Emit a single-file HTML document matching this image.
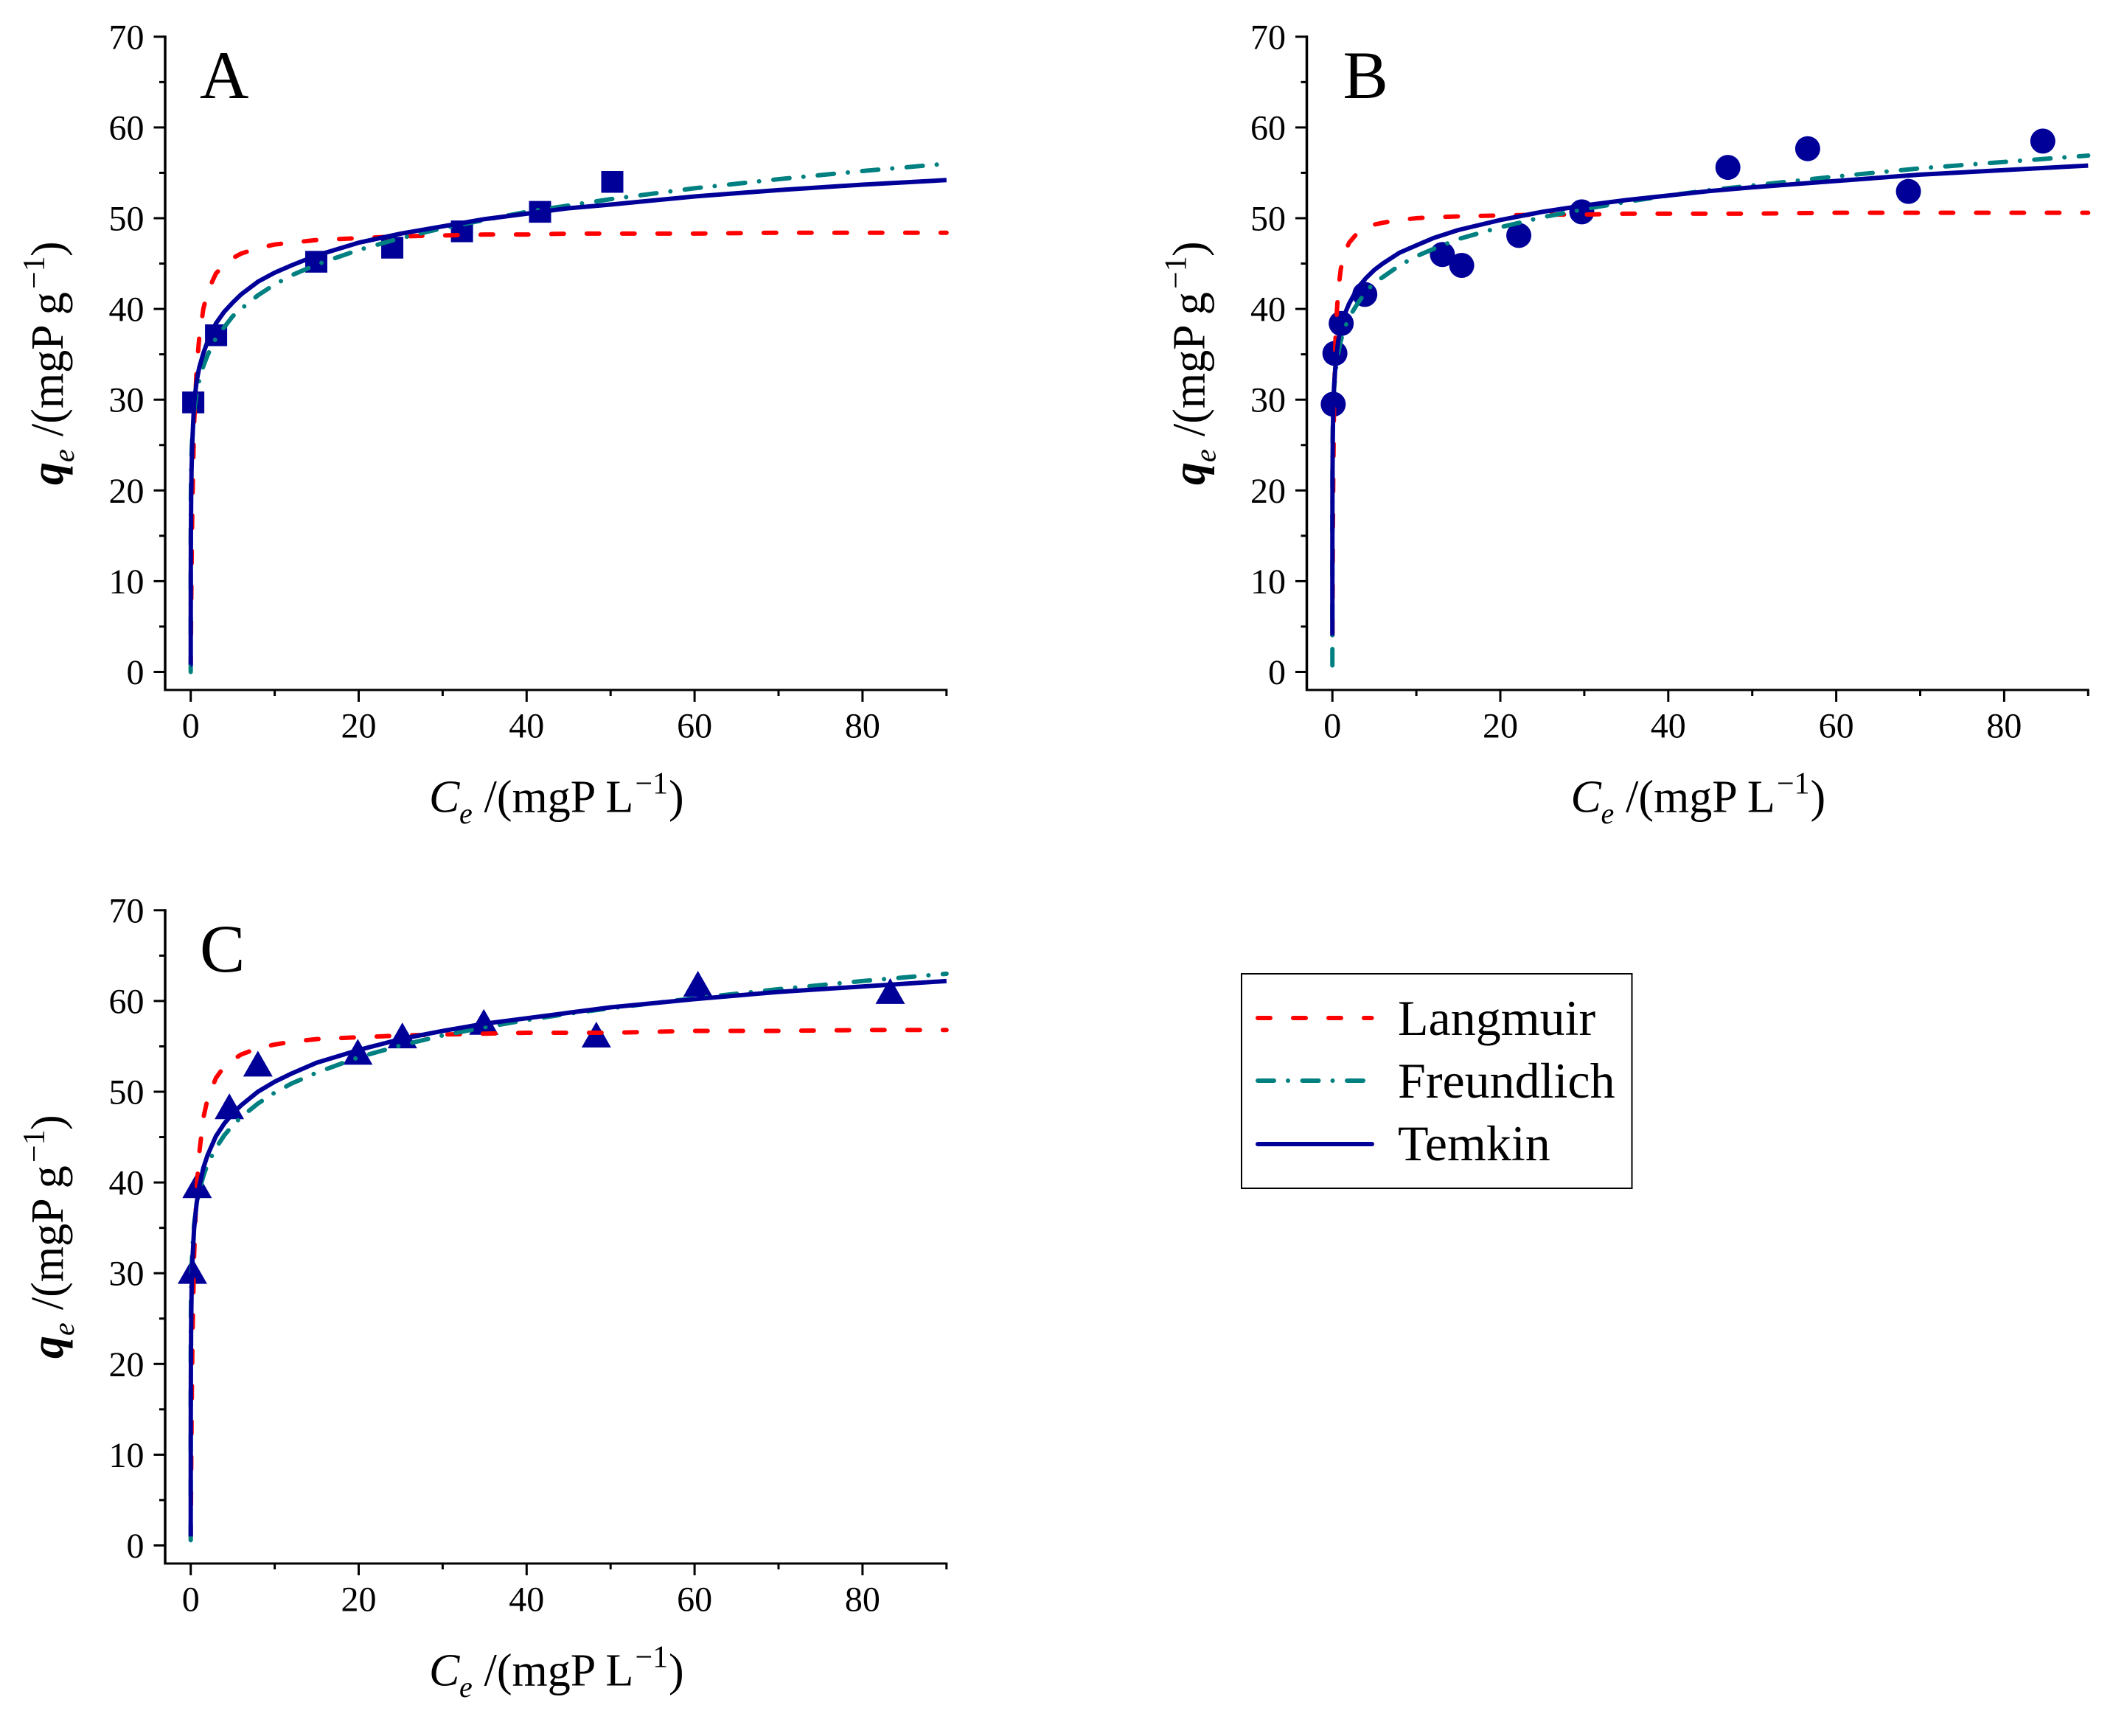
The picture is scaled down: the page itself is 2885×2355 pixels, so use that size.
<!DOCTYPE html>
<html lang="en">
<head>
<meta charset="utf-8">
<title>Adsorption isotherms</title>
<style>
html,body{margin:0;padding:0;background:#fff;}
svg{display:block;}
text{font-family:"Liberation Serif",serif;fill:#000;}
.ttl{font-size:62px;}
.it{font-style:italic;}
.sub{font-size:40px;font-style:italic;}
.sup{font-size:42px;}
.letter{font-size:92px;}
.leg{font-size:68px;}
.tick{font-size:48px;}
</style>
</head>
<body>
<svg id="chart" xmlns="http://www.w3.org/2000/svg" width="2885" height="2355" viewBox="0 0 2885 2355">
  <rect x="0" y="0" width="2885" height="2355" fill="#fff"/>

  <g id="panelA" transform="translate(0,0)">
    <text class="letter" x="271" y="133">A</text>
    <g>
      <text class="ttl it" x="582" y="1101.5">C</text><text class="sub" x="623" y="1117">e</text><text class="ttl" x="656.6" y="1101.5">/(mgP L</text><text class="sup" x="861.5" y="1076.5">−1</text><text class="ttl" x="907" y="1101.5">)</text>
    </g>
    <g transform="translate(85,658) rotate(-90)">
      <text class="ttl it" font-weight="bold" x="0" y="0">q</text><text class="sub" x="31" y="15">e</text><text class="ttl" x="66" y="0">/(mgP g</text><text class="sup" x="266" y="-25">−1</text><text class="ttl" x="310" y="0">)</text>
    </g>
  </g>

  <g id="panelB" transform="translate(1548.5,0)">
    <text class="letter" x="273" y="133">B</text>
    <g>
      <text class="ttl it" x="582" y="1101.5">C</text><text class="sub" x="623" y="1117">e</text><text class="ttl" x="656.6" y="1101.5">/(mgP L</text><text class="sup" x="861.5" y="1076.5">−1</text><text class="ttl" x="907" y="1101.5">)</text>
    </g>
    <g transform="translate(85,658) rotate(-90)">
      <text class="ttl it" font-weight="bold" x="0" y="0">q</text><text class="sub" x="31" y="15">e</text><text class="ttl" x="66" y="0">/(mgP g</text><text class="sup" x="266" y="-25">−1</text><text class="ttl" x="310" y="0">)</text>
    </g>
  </g>

  <g id="panelC" transform="translate(0,1185)">
    <text class="letter" x="271" y="133">C</text>
    <g>
      <text class="ttl it" x="582" y="1101.5">C</text><text class="sub" x="623" y="1117">e</text><text class="ttl" x="656.6" y="1101.5">/(mgP L</text><text class="sup" x="861.5" y="1076.5">−1</text><text class="ttl" x="907" y="1101.5">)</text>
    </g>
    <g transform="translate(85,658) rotate(-90)">
      <text class="ttl it" font-weight="bold" x="0" y="0">q</text><text class="sub" x="31" y="15">e</text><text class="ttl" x="66" y="0">/(mgP g</text><text class="sup" x="266" y="-25">−1</text><text class="ttl" x="310" y="0">)</text>
    </g>
  </g>

  <g>
    <rect x="1684" y="1321" width="529.5" height="291" fill="none" stroke="#000" stroke-width="2"/>
    <g>
      <line x1="1706" y1="1381" x2="1860.5" y2="1381" stroke="#ff0000" stroke-width="6" stroke-linecap="round" stroke-dasharray="17 31"/>
      <text class="leg" x="1896" y="1404">Langmuir</text>
    </g>
    <g>
      <line x1="1706" y1="1466" x2="1849" y2="1466" stroke="#008080" stroke-width="6" stroke-linecap="round" stroke-dasharray="22 19 0.01 19.5"/>
      <text class="leg" x="1896" y="1489">Freundlich</text>
    </g>
    <g>
      <line x1="1706" y1="1552" x2="1861" y2="1552" stroke="#000099" stroke-width="6" stroke-linecap="round"/>
      <text class="leg" x="1896" y="1574">Temkin</text>
    </g>
  </g>
</svg>

<script>
// Tick values
var xMajorTicks = [0, 20, 40, 60, 80];
var xMinorTicks = [10, 30, 50, 70, 90];
var yMajorTicks = [0, 10, 20, 30, 40, 50, 60, 70];
var yMinorTicks = [5, 15, 25, 35, 45, 55, 65];

// Shared Ce values for the fitted curves
var curveCe = [0, 0.001, 0.002, 0.005, 0.01, 0.02, 0.05, 0.1, 0.2, 0.4, 0.7, 1, 1.5, 2, 3, 4, 5, 6, 8, 10, 12, 15, 20, 25, 30, 35, 40, 45, 50, 60, 70, 80, 90];

// Panel A
var pointsACe = [0.3, 3.02, 14.95, 24, 32.3, 41.6, 50.2];
var pointsAQe = [29.7, 37.1, 45.2, 46.75, 48.55, 50.7, 54.0];
var langmuirA = [1, 1, 1, 1, 1.5, 2.9, 6.7, 11.5, 18.6, 27.3, 33.3, 36.7, 40.0, 41.9, 43.9, 44.9, 45.6, 46.1, 46.7, 47.1, 47.3, 47.6, 47.8, 48.0, 48.1, 48.2, 48.2, 48.3, 48.3, 48.3, 48.4, 48.4, 48.4];
var freundlichA = [0, 13.7, 14.9, 16.7, 18.2, 19.8, 22.2, 24.1, 26.3, 28.7, 30.7, 32.1, 33.7, 34.9, 36.8, 38.0, 39.2, 40.0, 41.5, 42.7, 43.7, 44.9, 46.5, 47.8, 48.9, 49.8, 50.7, 51.4, 52.1, 53.3, 54.3, 55.2, 56.0];
var temkinA = [0.8, 0.8, 4.1, 8.3, 11.6, 14.9, 19.1, 22.4, 25.6, 29.6, 32.0, 33.5, 35.1, 36.4, 38.4, 39.7, 40.7, 41.6, 43.0, 44.0, 44.8, 45.9, 47.3, 48.3, 49.1, 49.9, 50.5, 51.1, 51.5, 52.4, 53.1, 53.7, 54.2];
var dashStartCeA = [59.8, 64.1];

// Panel B
var pointsBCe = [0.1, 0.3, 1.05, 3.86, 13.1, 15.4, 22.2, 29.7, 47.1, 56.6, 68.6, 84.6];
var pointsBQe = [29.5, 35.1, 38.4, 41.6, 46.0, 44.8, 48.1, 50.7, 55.6, 57.66, 52.95, 58.5];
var langmuirB = [4, 4, 4, 4, 4, 6.2, 13.5, 20.9, 29.9, 37.8, 42.1, 44.4, 46.3, 47.3, 48.4, 48.9, 49.3, 49.5, 49.8, 50.0, 50.1, 50.2, 50.3, 50.4, 50.4, 50.5, 50.5, 50.5, 50.5, 50.6, 50.6, 50.6, 50.6];
var freundlichB = [0, 18.5, 19.8, 21.6, 23.2, 24.9, 27.2, 29.1, 31.2, 33.3, 35.2, 36.5, 38.0, 39.1, 40.6, 41.9, 42.9, 43.5, 44.8, 45.8, 46.6, 47.7, 49.0, 50.1, 51.0, 51.8, 52.5, 53.1, 53.6, 54.6, 55.5, 56.2, 56.9];
var temkinB = [4, 10.5, 13.2, 16.9, 19.6, 22.4, 26.0, 28.8, 31.5, 34.2, 36.5, 37.9, 39.5, 40.6, 42.3, 43.4, 44.3, 45.0, 46.2, 47.0, 47.8, 48.7, 49.8, 50.7, 51.4, 52.0, 52.5, 53.0, 53.4, 54.1, 54.8, 55.3, 55.8];
var dashStartCeB = [59.8, 67.7];

// Panel C
var pointsCCe = [0.2, 0.76, 4.6, 8.0, 19.9, 25.2, 34.9, 48.3, 60.4, 83.3];
var pointsCQe = [30.25, 39.7, 48.4, 53.1, 54.4, 56.2, 57.7, 56.3, 61.9, 61.1];
var langmuirC = [1, 1, 1, 1, 1.8, 3.4, 7.8, 13.8, 22.3, 31.9, 39.3, 43.1, 47.1, 49.2, 51.5, 52.8, 53.5, 54.1, 54.8, 55.2, 55.5, 55.8, 56.0, 56.2, 56.3, 56.4, 56.5, 56.5, 56.5, 56.7, 56.7, 56.8, 56.8];
var freundlichC = [0, 18.7, 20.1, 22.2, 23.9, 25.7, 28.3, 30.5, 32.8, 35.4, 37.5, 39.0, 40.7, 42.0, 43.8, 45.2, 46.3, 47.2, 48.7, 49.9, 50.9, 52.1, 53.8, 55.1, 56.2, 57.1, 57.9, 58.6, 59.2, 60.3, 61.3, 62.2, 63.0];
var temkinC = [1, 4.6, 8.1, 12.7, 16.2, 19.8, 24.4, 27.9, 31.4, 34.9, 37.7, 39.5, 41.6, 43.0, 45.1, 46.5, 47.6, 48.5, 50.0, 51.1, 52.0, 53.2, 54.6, 55.8, 56.7, 57.5, 58.1, 58.7, 59.3, 60.2, 61.0, 61.6, 62.2];
var dashStartCeC = [55.85, 68.4];

var SVG_NS = 'http://www.w3.org/2000/svg';

// Axis functions (panel-local pixels)
function xAxis(v) { return 258.7 + 11.39 * v; }
function yAxis(v) { return 911.5 - 12.31 * v; }

function make(tag, parent, attrs) {
  var node = document.createElementNS(SVG_NS, tag);
  for (var k in attrs) { node.setAttribute(k, attrs[k]); }
  parent.appendChild(node);
  return node;
}

function drawAxes(panel, suffix) {
  var axes = make('g', panel, { stroke: '#000', 'stroke-width': 3 });
  
  

  var yLine = make('line', axes, { x1: 224, x2: 224, y1: yAxis(70) - 1.5, y2: 937.5, 'stroke-width': 3.5 });
  
  

  var xLine = make('line', axes, { x1: 222.5, x2: xAxis(90) + 1.5, y1: 936, y2: 936 });
  
  

  yMajorTicks.forEach(function (v) {
    var t = make('line', axes, { x1: 208.5, x2: 224, y1: yAxis(v), y2: yAxis(v) });
    
    
    var lab = make('text', panel, { x: 195.5, y: yAxis(v) + 16.5, 'text-anchor': 'end', 'class': 'tick' });
    
    
    lab.textContent = String(v);
  });
  yMinorTicks.forEach(function (v) {
    var t = make('line', axes, { x1: 216, x2: 224, y1: yAxis(v), y2: yAxis(v) });
    
    
  });
  xMajorTicks.forEach(function (v) {
    var t = make('line', axes, { x1: xAxis(v), x2: xAxis(v), y1: 936, y2: 952 });
    
    
    var lab = make('text', panel, { x: xAxis(v), y: 1000.5, 'text-anchor': 'middle', 'class': 'tick' });
    
    
    lab.textContent = String(v);
  });
  xMinorTicks.forEach(function (v) {
    var t = make('line', axes, { x1: xAxis(v), x2: xAxis(v), y1: 936, y2: 944 });
    
    
  });
}

function drawMarkers(panel, suffix, xs, ys, shape) {
  var group = make('g', panel, { fill: '#000099' });
  
  
  xs.forEach(function (xv, i) {
    var cx = xAxis(xv), cy = yAxis(ys[i]), m;
    if (shape === 'square') {
      m = make('rect', group, { x: cx - 15, y: cy - 14.75, width: 30, height: 29.5 });
    } else if (shape === 'circle') {
      m = make('circle', group, { cx: cx, cy: cy, r: 17 });
    } else {
      m = make('polygon', group, { points: cx + ',' + (cy - 17.5) + ' ' + (cx - 20) + ',' + (cy + 17.5) + ' ' + (cx + 20) + ',' + (cy + 17.5) });
    }
    
    
  });
}

function curvePoints(ys) {
  return ys.map(function (v, i) { return xAxis(curveCe[i]).toFixed(2) + ',' + yAxis(v).toFixed(2); }).join(' ');
}

// Dash phase: pattern restarts where the curve reaches the given Ce value
function dashOffset(ys, startCe, period) {
  var len = 0;
  for (var i = 1; i < ys.length; i++) {
    var x0 = curveCe[i - 1], x1 = curveCe[i];
    var f = startCe >= x1 ? 1 : (startCe - x0) / (x1 - x0);
    var dx = (xAxis(x1) - xAxis(x0)) * f;
    var dy = (yAxis(ys[i]) - yAxis(ys[i - 1])) * f;
    len += Math.sqrt(dx * dx + dy * dy);
    if (startCe < x1) { break; }
  }
  return period - (len % period);
}

function drawCurves(panel, suffix, lang, freu, temk, dashStarts) {
  var l = make('polyline', panel, { points: curvePoints(lang), fill: 'none', stroke: '#ff0000', 'stroke-width': 6, 'stroke-dasharray': '17 31', 'stroke-linecap': 'round', 'stroke-linejoin': 'round', 'stroke-dashoffset': dashOffset(lang, dashStarts[0], 48).toFixed(2) });
  
  
  var f = make('polyline', panel, { points: curvePoints(freu), fill: 'none', stroke: '#008080', 'stroke-width': 6, 'stroke-dasharray': '22 19 0.01 19.5', 'stroke-linecap': 'round', 'stroke-linejoin': 'round', 'stroke-dashoffset': dashOffset(freu, dashStarts[1], 60.51).toFixed(2) });
  
  
  var t = make('polyline', panel, { points: curvePoints(temk), fill: 'none', stroke: '#000099', 'stroke-width': 6, 'stroke-linejoin': 'round' });
  
  
}

var panelA = document.getElementById('panelA');
var panelB = document.getElementById('panelB');
var panelC = document.getElementById('panelC');

drawAxes(panelA, 'a');
drawMarkers(panelA, 'a', pointsACe, pointsAQe, 'square');
drawCurves(panelA, 'a', langmuirA, freundlichA, temkinA, dashStartCeA);

drawAxes(panelB, 'b');
drawMarkers(panelB, 'b', pointsBCe, pointsBQe, 'circle');
drawCurves(panelB, 'b', langmuirB, freundlichB, temkinB, dashStartCeB);

drawAxes(panelC, 'c');
drawMarkers(panelC, 'c', pointsCCe, pointsCQe, 'triangle');
drawCurves(panelC, 'c', langmuirC, freundlichC, temkinC, dashStartCeC);
</script>
</body>
</html>
